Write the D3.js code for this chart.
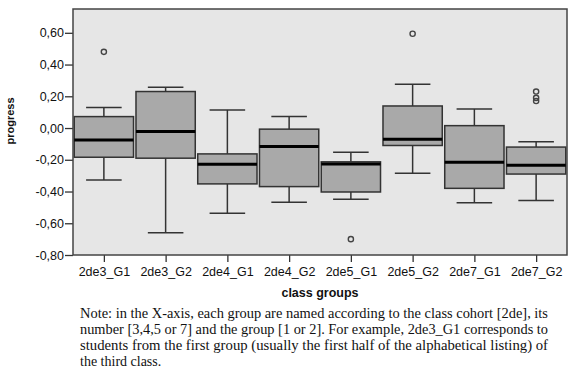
<!DOCTYPE html>
<html><head><meta charset="utf-8">
<script src="https://cdn.jsdelivr.net/npm/d3@7"></script>
<style>body{margin:0;background:#fff}svg{display:block}</style>
</head><body>
<svg id="c" width="588" height="379"></svg>
<script>
const categories = ["2de3_G1","2de3_G2","2de4_G1","2de4_G2","2de5_G1","2de5_G2","2de7_G1","2de7_G2"];
const lowerWhisker = [-0.327,-0.66,-0.537,-0.468,-0.449,-0.285,-0.47,-0.456];
const q1 =           [-0.184,-0.19,-0.352,-0.369,-0.403,-0.11,-0.38,-0.29];
const median =       [-0.075,-0.022,-0.228,-0.117,-0.226,-0.07,-0.215,-0.234];
const q3 =           [0.072,0.23,-0.163,-0.007,-0.213,0.139,0.015,-0.12];
const upperWhisker = [0.129,0.257,0.114,0.072,-0.152,0.276,0.12,-0.086];
const outliers = [[0.48],[],[],[],[-0.70],[0.594],[],[0.23,0.19,0.17]];
const yTicks = [0.6,0.4,0.2,0,-0.2,-0.4,-0.6,-0.8];
const yLabel = "progress";
const xLabel = "class groups";
const noteLines = [
 "Note: in the X-axis, each group are named according to the class cohort [2de], its",
 "number [3,4,5 or 7] and the group [1 or 2]. For example, 2de3_G1 corresponds to",
 "students from the first group (usually the first half of the alphabetical listing) of",
 "the third class."
];

const svg = d3.select("#c");
const L=73, R=567, T=9, B=255;
const x = d3.scaleBand().domain(categories).range([L,R]).paddingInner(0.04).paddingOuter(0.02);
const y = d3.scaleLinear().domain([-0.8,0.75]).range([B,T]);

svg.append("rect").attr("x",L).attr("y",T).attr("width",R-L).attr("height",B-T)
  .attr("fill","#e6e6e6");

const fmt = v => d3.format(".2f")(v).replace(".",",").replace("−","-");
const yAxis = svg.append("g").attr("transform",`translate(${L},0)`)
  .call(d3.axisLeft(y).tickValues(yTicks).tickSize(8).tickSizeOuter(0).tickFormat(fmt));
yAxis.select(".domain").remove();
yAxis.selectAll("line").attr("stroke","#333").attr("stroke-width",1.3);
yAxis.selectAll("text").attr("font-family","Arial, Liberation Sans, sans-serif").attr("font-size","12.5px").attr("fill","#111").attr("x",-9);

const xAxis = svg.append("g").attr("transform",`translate(0,${B})`)
  .call(d3.axisBottom(d3.scalePoint().domain(categories).range([L+x.step()/2, R-x.step()/2])).tickSize(7).tickSizeOuter(0));
xAxis.select(".domain").remove();
xAxis.selectAll("line").attr("stroke","#333").attr("stroke-width",1.3);
xAxis.selectAll("text").attr("font-family","Arial, Liberation Sans, sans-serif").attr("font-size","12.5px").attr("fill","#111").attr("y",21).attr("dy",0);

const bw = x.bandwidth();
categories.forEach((c,i)=>{
  const cx = x(c)+bw/2;
  const g = svg.append("g");
  const capW = bw*0.6;
  g.append("line").attr("x1",cx).attr("x2",cx).attr("y1",y(upperWhisker[i])).attr("y2",y(q3[i])).attr("stroke","#333").attr("stroke-width",1.5);
  g.append("line").attr("x1",cx).attr("x2",cx).attr("y1",y(lowerWhisker[i])).attr("y2",y(q1[i])).attr("stroke","#333").attr("stroke-width",1.5);
  g.append("line").attr("x1",cx-capW/2).attr("x2",cx+capW/2).attr("y1",y(upperWhisker[i])).attr("y2",y(upperWhisker[i])).attr("stroke","#333").attr("stroke-width",1.5);
  g.append("line").attr("x1",cx-capW/2).attr("x2",cx+capW/2).attr("y1",y(lowerWhisker[i])).attr("y2",y(lowerWhisker[i])).attr("stroke","#333").attr("stroke-width",1.5);
  g.append("rect").attr("x",x(c)).attr("y",y(q3[i])).attr("width",bw).attr("height",y(q1[i])-y(q3[i]))
    .attr("fill","#a9a9a9").attr("stroke","#333").attr("stroke-width",1.5);
  g.append("line").attr("x1",x(c)).attr("x2",x(c)+bw).attr("y1",y(median[i])).attr("y2",y(median[i])).attr("stroke","#000").attr("stroke-width",3);
  outliers[i].forEach(v=>{
    g.append("circle").attr("cx",cx).attr("cy",y(v)).attr("r",2.6).attr("fill","none").attr("stroke","#444").attr("stroke-width",1.4);
  });
});

svg.append("rect").attr("x",L).attr("y",T).attr("width",R-L).attr("height",B-T)
  .attr("fill","none").attr("stroke","#444").attr("stroke-width",1.5);

svg.append("text").attr("transform",`translate(14,121) rotate(-90)`).attr("text-anchor","middle")
  .attr("font-family","Arial, Liberation Sans, sans-serif").attr("font-weight","bold").attr("font-size","11px").attr("fill","#111").text(yLabel);
svg.append("text").attr("x",(L+R)/2).attr("y",297).attr("text-anchor","middle")
  .attr("font-family","Arial, Liberation Sans, sans-serif").attr("font-weight","bold").attr("font-size","12.5px").attr("fill","#111").text(xLabel);

noteLines.forEach((t,i)=>{
  const tx = svg.append("text").attr("x",80).attr("y",318+i*16)
    .attr("font-family","Liberation Serif, Times New Roman, serif").attr("font-size","14px").attr("fill","#111").text(t);
  if(i<3) tx.attr("textLength",468).attr("lengthAdjust","spacingAndGlyphs");
});
</script>
</body></html>
